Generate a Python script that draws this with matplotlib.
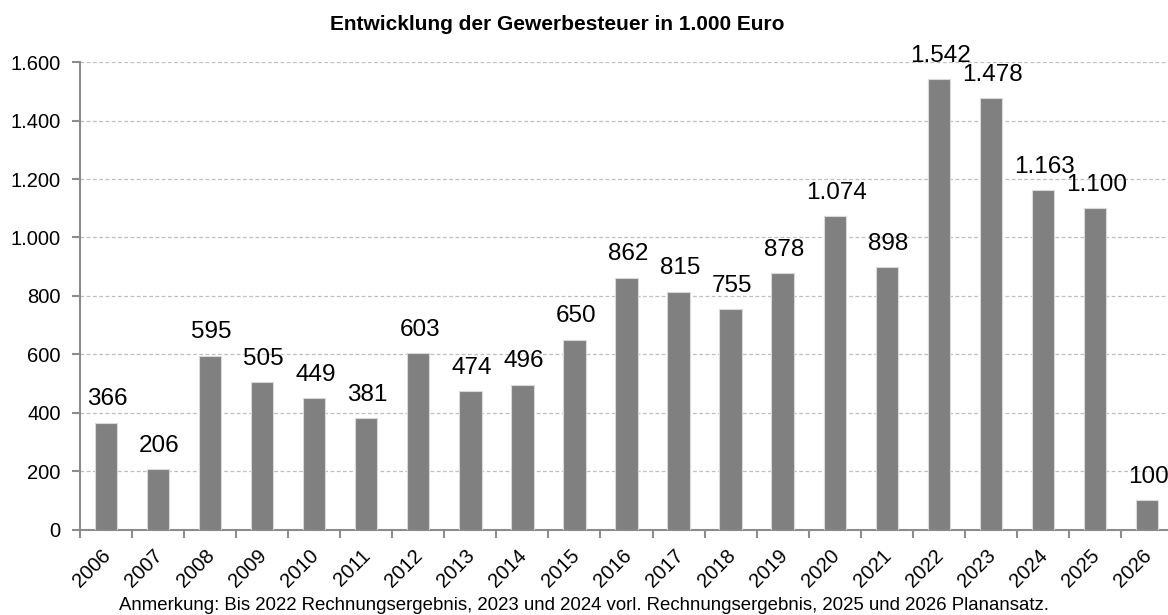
#!/usr/bin/env python3
"""
Entwicklung der Gewerbesteuer - Balkendiagramm.
"""
import matplotlib.pyplot as plt
from matplotlib.transforms import ScaledTranslation
import numpy as np

plt.rcParams['font.family'] = ['Liberation Sans', 'DejaVu Sans']

years = [str(y) for y in range(2006, 2027)]
values = [366, 206, 595, 505, 449, 381, 603, 474, 496, 650, 862,
          815, 755, 878, 1074, 898, 1542, 1478, 1163, 1100, 100]
yticks = [0, 200, 400, 600, 800, 1000, 1200, 1400, 1600]

title = 'Entwicklung der Gewerbesteuer in 1.000 Euro'
note = ('Anmerkung: Bis 2022 Rechnungsergebnis, 2023 und 2024 vorl. '
        'Rechnungsergebnis, 2025 und 2026 Planansatz.')


def de_fmt(v):
    return f'{v:,.0f}'.replace(',', '.')


fig = plt.figure(figsize=(11.68, 6.15), dpi=100)
ax = fig.add_axes([80 / 1168, 85.5 / 615, 1093 / 1168, 467.2 / 615])

x = np.arange(len(years))
ax.bar(x, values, width=0.43, color='#808080', edgecolor='#d9d9d9',
       linewidth=0.8, zorder=3)

for xi, v in zip(x, values):
    ax.annotate(de_fmt(v), (xi, v), xytext=(1, 12.5), textcoords='offset points',
                ha='center', va='baseline', fontsize=17.5, color='black',
                annotation_clip=False)

ax.set_xlim(-0.5, len(years) - 0.5)
ax.set_ylim(0, 1600)
ax.set_yticks(yticks)
ax.set_yticklabels([de_fmt(t) for t in yticks], fontsize=14.5)

ax.set_xticks(x)
ax.set_xticklabels(years, rotation=45, ha='right', rotation_mode='anchor',
                   fontsize=14.5)
ax.tick_params(axis='x', which='major', length=0, pad=11)
shift = ScaledTranslation(-5 / 100, -1 / 100, fig.dpi_scale_trans)
for lbl in ax.get_xticklabels():
    lbl.set_transform(lbl.get_transform() + shift)
ax.set_xticks(np.arange(len(years)) - 0.5, minor=True)
ax.tick_params(axis='x', which='minor', length=6, width=1.5, color='#8c8c8c',
               direction='out')
ax.tick_params(axis='y', length=6, width=1.5, color='#8c8c8c', direction='out',
               pad=8)

ax.grid(axis='y', linestyle=(0, (3, 2)), color='#bfbfbf', linewidth=0.9, zorder=0)
ax.set_axisbelow(True)

for side in ['top', 'right']:
    ax.spines[side].set_visible(False)
for side in ['left', 'bottom']:
    ax.spines[side].set_color('#8c8c8c')
    ax.spines[side].set_linewidth(1.5)

fig.text(557 / 1168, 1 - 25 / 615, title, ha='center', va='center',
         fontsize=15, fontweight='bold')
fig.text(584 / 1168, 1 - 605 / 615, note, ha='center', va='center',
         fontsize=13.4)

fig.savefig('out.png', dpi=100)
